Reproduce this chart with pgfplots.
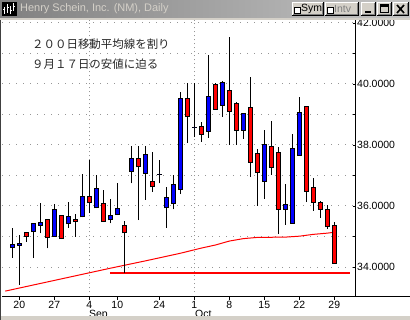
\documentclass[border=0pt]{standalone}
\usepackage{pgfplots}
\pgfplotsset{compat=1.18}
\usepackage{pgfplotstable}
\usepackage{fontspec}
\setmainfont{Liberation Sans}
\newfontfamily\jp{Noto Sans CJK JP}
\definecolor{cblue}{RGB}{0,0,255}
\definecolor{cred}{RGB}{255,0,0}
\definecolor{gridc}{RGB}{150,150,150}
\definecolor{winbg}{RGB}{212,208,200}
\definecolor{tbl}{RGB}{128,128,128}
\definecolor{tbr}{RGB}{196,196,196}
\definecolor{framec}{RGB}{64,64,64}
\definecolor{btndark}{RGB}{128,128,128}

% up (blue) candles: n open high low close
\pgfplotstableread{
n o h l c
1 34.62 35.28 34.30 34.75
2 34.70 35.05 33.41 34.78
4 35.14 35.43 34.29 35.43
5 35.35 36.09 35.10 35.47
7 34.99 36.06 34.99 35.89
9 35.40 36.12 35.29 35.66
11 35.63 37.06 35.63 36.32
13 35.92 37.02 35.92 36.58
15 35.53 36.22 35.43 35.70
16 35.70 36.74 35.70 35.92
18 37.12 37.97 36.74 37.56
20 37.06 37.97 36.20 37.70
22 37.02 37.50 36.74 37.02
23 35.92 36.61 35.29 36.29
24 36.06 37.01 35.89 36.71
25 36.52 39.74 36.39 39.54
27 38.56 40.03 38.26 38.56
29 38.43 40.95 38.23 39.61
31 39.28 40.10 38.92 40.07
34 38.46 39.05 38.20 39.05
37 36.79 38.49 36.23 38.03
40 35.87 36.72 35.38 36.07
41 35.41 38.36 35.41 37.90
42 37.64 39.57 37.64 39.08
}\upc

% down (red) candles
\pgfplotstableread{
n o h l c
3 35.14 35.14 34.83 34.99
6 35.56 35.56 34.61 34.94
8 35.70 35.70 34.91 34.91
10 35.56 35.73 34.99 35.47
12 36.32 37.51 35.76 36.09
14 36.09 36.52 35.47 35.47
17 35.37 35.50 33.80 35.10
19 37.56 37.97 35.54 37.27
21 36.81 37.76 36.47 36.61
26 39.54 40.03 38.07 38.92
28 38.62 38.75 38.10 38.33
30 40.00 40.03 39.15 39.15
32 39.80 41.54 38.00 39.08
33 39.38 39.41 38.00 38.46
35 39.25 40.23 36.95 37.41
36 37.74 37.87 36.00 37.08
38 37.97 38.79 37.02 37.25
39 37.77 37.93 35.08 35.87
43 39.28 39.28 36.13 36.46
44 36.62 36.92 35.84 36.10
45 36.13 36.16 35.61 35.87
46 35.90 36.03 35.25 35.31
47 35.38 35.48 34.10 34.10
}\dnc

% 200-day moving average
\pgfplotstableread{
n ma
0 33.21
5 33.46
10 33.71
15 33.96
20 34.20
25 34.45
28 34.62
30 34.72
32 34.85
34 34.93
36 34.97
40 34.98
42 35.01
44 35.07
46 35.11
47 35.14
}\matab

\newcommand\winbtn[4]{%
  \fill[winbg] (#1,#2) rectangle (#3,#4);
  \draw[white, line width=1bp] (#1+0.5,#2+0.5) -- (#1+0.5,#4-0.5) -- (#3-0.5,#4-0.5);
  \draw[black, line width=1bp] (#1,#2+0.5) -- (#3-0.5,#2+0.5) -- (#3-0.5,#4);
  \draw[btndark, line width=1bp] (#1+1,#2+1.5) -- (#3-1.5,#2+1.5) -- (#3-1.5,#4-1);
}

\pgfplotsset{
  wick/.style={no marks, black, line width=1bp, line cap=butt, -,
    quiver={u=0, v=\thisrow{h}-\thisrow{l}}},
  bodyout/.style={no marks, black, line width=5bp, line cap=butt, -,
    quiver={u=0, v={max(abs(\thisrow{c}-\thisrow{o}),0.0328)}}},
  bodyin/.style={no marks, #1, line width=3bp, line cap=butt, -,
    quiver={u=0, v={max(abs(\thisrow{c}-\thisrow{o})-0.0656,0.0001)}}},
}

\begin{document}
\begin{tikzpicture}[x=1bp,y=1bp]
\useasboundingbox (0,0) rectangle (410,320);
\fill[white] (0,0) rectangle (410,320);
\begin{axis}[
  at={(2bp,23.5bp)}, anchor=south west,
  scale only axis, width=353.5bp, height=276.5bp,
  xmin=-0.471, xmax=50.03, ymin=33.033, ymax=42.098,
  axis line style={draw=none},
  xtick={2,7,12,16,22,27,32,37,42,47},
  xticklabels={20,27,4,10,24,1,8,15,22,29},
  xtick pos=bottom, xtick align=outside,
  ytick={34,36,38,40,42}, minor ytick={35,37,39,41},
  ytick pos=right, ytick align=inside,
  yticklabel pos=right,
  major tick length=3bp, minor tick length=3bp,
  tick style={black, line width=0.8bp},
  ymajorgrids, yminorgrids,
  major y grid style={gridc, line width=1bp, dash pattern=on 1bp off 6bp},
  minor y grid style={gridc, line width=1bp, dash pattern=on 1bp off 6bp},
  /pgf/number format/assume math mode=true,
  yticklabel={\pgfmathprintnumber[fixed,fixed zerofill,precision=4]{\tick}},
  ticklabel style={font=\fontsize{10.5}{12}\selectfont, black},
  yticklabel style={inner sep=0pt, anchor=west, xshift=1.5bp},
  xticklabel style={inner sep=0pt, anchor=north, yshift=-1.5bp},
]
% month separators
\draw[gridc, line width=1bp, dash pattern=on 1bp off 3bp] (axis cs:12,33.033) -- (axis cs:12,42.098);
\draw[gridc, line width=1bp, dash pattern=on 1bp off 3bp] (axis cs:27,33.033) -- (axis cs:27,42.098);
\addplot[cred, line width=1bp] table[x=n, y=ma] {\matab};
\addplot[cred, line width=2bp] coordinates {(15,33.80) (49.24,33.80)};
% wicks
\addplot[wick] table[x=n, y=l] {\upc};
\addplot[wick] table[x=n, y=l] {\dnc};
% body outlines
\addplot[bodyout] table[x=n, y expr={min(\thisrow{o},\thisrow{c})}] {\upc};
\addplot[bodyout] table[x=n, y expr={min(\thisrow{o},\thisrow{c})}] {\dnc};
% body fills
\addplot[bodyin=cblue] table[x=n, y expr={min(\thisrow{o},\thisrow{c})+0.0328}] {\upc};
\addplot[bodyin=cred] table[x=n, y expr={min(\thisrow{o},\thisrow{c})+0.0328}] {\dnc};
\end{axis}
% axis lines
\draw[black, line width=1bp] (2,23.5) -- (410,23.5);
\draw[black, line width=1bp] (355.5,23.5) -- (355.5,300);
% month labels
\node[anchor=north west, inner sep=0pt, font=\fontsize{10.5}{12}\selectfont] at (89,10.5) {Sep};
\node[anchor=north west, inner sep=0pt, font=\fontsize{10.5}{12}\selectfont] at (195,10.5) {Oct};
% annotation
\node[anchor=west, inner sep=0pt, text=black!85, font=\jp\fontsize{11.5}{13}\selectfont] at (32,276.3) {２００日移動平均線を割り};
\node[anchor=west, inner sep=0pt, text=black!85, font=\jp\fontsize{11.5}{13}\selectfont] at (32,255.7) {９月１７日の安値に迫る};
% window frame
\fill[winbg] (0,0) rectangle (410,4);
\fill[framec] (0,0) rectangle (1.5,320);
\fill[winbg] (0,300.3) rectangle (410,302);
\shade[left color=tbl, right color=tbr] (0,302) rectangle (410,320);
% icon
\fill[black] (2,304) rectangle (17,318);
\draw[white, line width=1bp] (4.5,306) -- (4.5,313) (7.5,307) -- (7.5,316) (10.5,305.5) -- (10.5,314) (13.5,309) -- (13.5,316.5);
\draw[white, line width=1bp] (3.5,310) -- (5.5,310) (6.5,312) -- (8.5,312) (9.5,309) -- (11.5,309) (12.5,313) -- (14.5,313);
\node[anchor=west, inner sep=0pt, text=winbg, font=\fontsize{11}{13}\selectfont] at (20,311) {Henry Schein, Inc. (NM), Daily};
% buttons
\winbtn{292}{304}{324}{318}
\fill[white] (294.5,307) rectangle (300.5,313);
\draw[black, line width=0.8bp] (294.5,307) rectangle (300.5,313);
\node[anchor=west, inner sep=0pt, font=\fontsize{10.5}{12}\selectfont] at (301,310.8) {Sym};
\winbtn{325}{304}{359}{318}
\fill[white] (327.5,307) rectangle (333.5,313);
\draw[black, line width=0.8bp] (327.5,307) rectangle (333.5,313);
\node[anchor=west, inner sep=0pt, text=btndark, font=\fontsize{10.5}{12}\selectfont] at (334,310.8) {Intv};
\winbtn{361}{304}{376}{318}
\draw[black, line width=2bp] (365,307.5) -- (371,307.5);
\winbtn{377}{304}{392}{318}
\draw[black, line width=1bp] (380.5,307) rectangle (388.5,315);
\draw[black, line width=2bp] (380.5,314) -- (388.5,314);
\winbtn{393}{304}{409}{318}
\draw[black, line width=1.6bp] (397,307) -- (404,315) (397,315) -- (404,307);
\end{tikzpicture}
\end{document}
